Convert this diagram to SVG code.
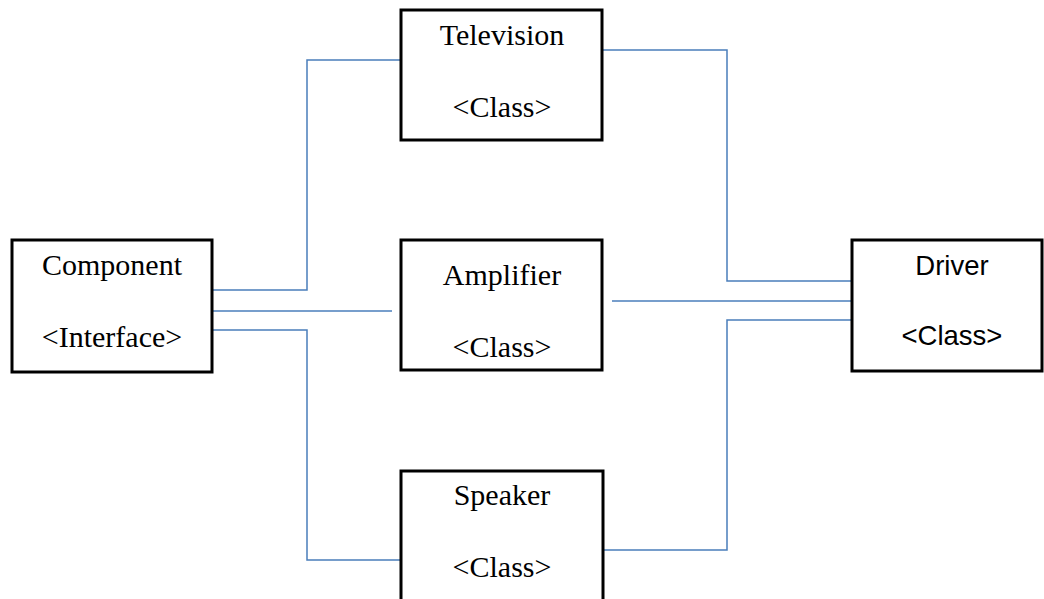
<svg xmlns="http://www.w3.org/2000/svg" width="1044" height="599" viewBox="0 0 1044 599">
<style>
.box{fill:#fff;stroke:#000;stroke-width:3}
.t{font-family:"Liberation Serif","Times New Roman",serif;font-size:30px;fill:#000;text-anchor:middle}
.s{font-family:"Liberation Sans",Arial,sans-serif;font-size:27.5px;fill:#000;text-anchor:middle}
.c{fill:none;stroke:#4A7EBB;stroke-width:1.5}
</style>
<rect width="1044" height="599" fill="#fff"/>
<g id="connectors">
<polyline class="c" points="212,290 307,290 307,60 401,60"/>
<line class="c" x1="212" y1="311" x2="392" y2="311"/>
<polyline class="c" points="212,330 307,330 307,560 401,560"/>
<polyline class="c" points="602,50 727,50 727,281 852,281"/>
<line class="c" x1="612" y1="301" x2="852" y2="301"/>
<polyline class="c" points="603,550 727,550 727,320 852,320"/>
</g>
<g id="component">
<rect class="box" x="12" y="240" width="200" height="132"/>
<text class="t" x="112" y="275">Component</text>
<text class="t" x="112" y="347">&lt;Interface&gt;</text>
</g>
<g id="television">
<rect class="box" x="401" y="10" width="201" height="130"/>
<text class="t" x="502" y="45">Television</text>
<text class="t" x="502" y="117">&lt;Class&gt;</text>
</g>
<g id="amplifier">
<rect class="box" x="401" y="240" width="201" height="130"/>
<text class="t" x="502" y="285">Amplifier</text>
<text class="t" x="502" y="357">&lt;Class&gt;</text>
</g>
<g id="speaker">
<rect class="box" x="401" y="471" width="202" height="140"/>
<text class="t" x="502" y="505">Speaker</text>
<text class="t" x="502" y="577">&lt;Class&gt;</text>
</g>
<g id="driver">
<rect class="box" x="852" y="240" width="190" height="131"/>
<text class="s" x="952" y="275">Driver</text>
<text class="s" x="952" y="345">&lt;Class&gt;</text>
</g>
</svg>
